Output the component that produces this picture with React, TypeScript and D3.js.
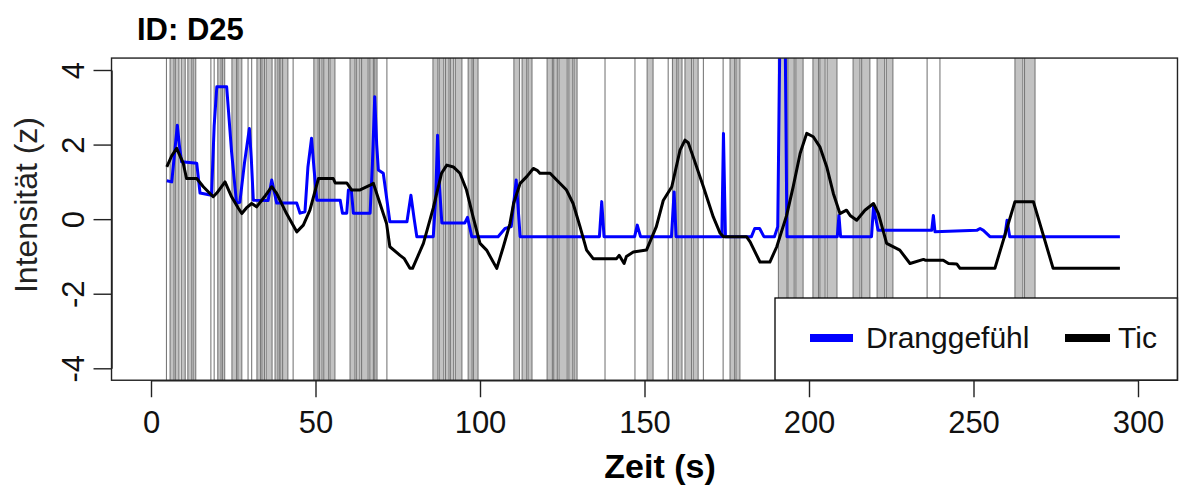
import * as d3 from 'd3';
import { useEffect, useRef } from 'react';

const chartWidth = 1181;
const chartHeight = 491;

const xTicks = [0, 50, 100, 150, 200, 250, 300];
const yTicks = [-4, -2, 0, 2, 4];

// tic episodes in seconds [start, end]; start == end is a single line
const ticEpisodes = [
    [4.7, 4.7], [5.8, 7.0], [7.4, 8.5], [9.2, 10.4], [11.2, 12.4], [12.8, 13.6],
    [18.2, 18.2], [19.2, 19.2], [20.3, 21.3], [21.7, 22.4], [24.6, 26.0], [26.4, 27.6],
    [29.5, 29.5], [30.6, 30.6], [32.2, 33.3], [33.7, 34.5], [35.0, 36.8], [37.7, 38.6], [39.0, 39.5],
    [40.0, 41.6], [43.2, 43.2],
    [49.5, 50.8], [51.2, 52.0], [52.5, 54.0], [54.4, 55.9],
    [60.5, 62.0], [62.4, 63.5], [64.0, 66.0], [66.5, 67.6], [68.0, 68.7], [71.7, 71.7],
    [85.7, 87.2], [87.6, 89.0], [89.5, 90.6], [91.0, 92.0], [92.5, 94.5], [96.4, 97.6], [98.0, 99.4],
    [110.3, 112.0], [112.8, 114.2], [114.6, 115.8], [120.4, 122.0], [122.4, 123.5], [124.0, 126.5],
    [127.0, 128.2], [128.6, 129.5],
    [138.0, 138.0], [147.1, 147.1],
    [150.8, 152.6], [157.2, 157.2], [158.5, 159.8], [160.2, 161.4], [162.3, 164.3], [164.8, 166.3],
    [167.9, 167.9], [173.9, 173.9], [176.0, 177.4], [177.8, 179.0],
    [190.7, 193.3], [193.6, 195.5], [196.0, 198.2], [201.2, 202.9], [203.3, 204.9], [205.5, 208.5],
    [213.4, 215.5], [216.0, 218.5], [220.7, 223.0], [223.5, 225.5],
    [235.9, 235.9], [239.8, 239.8], [262.6, 265.0], [265.5, 268.7],
];

// Dranggefühl (urge), [time, z]
const urge = [
    [4.8, 1.03], [6.3, 1.0], [7.2, 1.8], [8.0, 2.52], [8.6, 2.0], [9.3, 1.54], [13.9, 1.5], [14.9, 0.7],
    [18.4, 0.64], [19.2, 2.5], [20.0, 3.55], [23.0, 3.55], [24.5, 1.8], [26.0, 0.43], [27.0, 0.45],
    [28.4, 1.5], [29.9, 2.43], [30.5, 1.6], [31.1, 0.51], [35.6, 0.5], [36.7, 1.05], [38.2, 0.43],
    [44.3, 0.43], [45.3, 0.16], [46.8, 0.2], [47.7, 1.4], [48.8, 2.17], [49.6, 1.3], [50.4, 0.51],
    [57.5, 0.51], [58.2, 0.16], [59.5, 0.16], [60.0, 0.78], [60.9, 0.78], [61.5, 0.16], [66.6, 0.16],
    [67.3, 1.5], [68.0, 3.28], [68.6, 2.0], [69.1, 1.32], [70.6, 1.23], [72.6, -0.07], [77.8, -0.07],
    [79.0, 0.64], [80.0, 0.0], [80.8, -0.47], [85.8, -0.47], [86.5, 0.5], [87.1, 2.25], [87.6, 1.0],
    [88.4, -0.1], [95.4, -0.1], [96.2, 0.05], [97.5, -0.47], [105.5, -0.47], [107.6, -0.25],
    [109.5, -0.2], [111.0, 1.05], [112.2, -0.47], [136.3, -0.47], [137.0, 0.47], [137.7, -0.47],
    [147.0, -0.47], [147.8, -0.16], [148.8, -0.47], [158.2, -0.47], [159.0, 0.73], [159.6, -0.47],
    [173.5, -0.47], [174.0, 2.3], [174.6, -0.47], [182.5, -0.47], [183.5, -0.25], [185.0, -0.25],
    [186.3, -0.47], [189.5, -0.47], [190.5, -0.2], [191.1, 4.5], [192.8, 4.5], [193.3, -0.47],
    [208.6, -0.47], [209.1, 0.1], [209.6, -0.47], [219.0, -0.47], [219.6, 0.33], [221.0, -0.3],
    [237.3, -0.3], [237.8, 0.1], [238.3, -0.34], [251.0, -0.3], [252.0, -0.25], [253.0, -0.3],
    [255.0, -0.47], [259.5, -0.47], [260.2, -0.03], [261.0, -0.47], [294.5, -0.47],
];

// Tic intensity, [time, z]
const tic = [
    [4.8, 1.4], [6.3, 1.7], [7.8, 1.9], [9.8, 1.5], [10.8, 1.09], [13.9, 1.09], [15.9, 0.87],
    [18.9, 0.6], [20.0, 0.7], [22.5, 1.0], [24.5, 0.6], [26.5, 0.3], [27.6, 0.15], [29.0, 0.3],
    [30.6, 0.42], [32.1, 0.33], [34.5, 0.6], [36.7, 0.87], [38.2, 0.69], [41.2, 0.15], [44.3, -0.34],
    [46.3, -0.16], [48.3, 0.24], [50.9, 1.09], [55.4, 1.09], [56.0, 0.97], [59.5, 0.97], [61.0, 0.78],
    [63.4, 0.78], [66.6, 0.91], [67.6, 0.96], [69.6, 0.42], [71.6, -0.12], [72.6, -0.74], [75.7, -0.97],
    [77.0, -1.06], [78.7, -1.32], [79.5, -1.32], [82.8, -0.65], [85.8, 0.3], [88.3, 1.23], [89.9, 1.45],
    [91.9, 1.4], [93.9, 1.23], [95.9, 0.78], [97.9, 0.06], [100.0, -0.65], [102.0, -0.83],
    [105.1, -1.32], [107.1, -0.74], [109.1, -0.12], [110.2, 0.42], [112.2, 0.96], [114.2, 1.14],
    [116.2, 1.36], [117.5, 1.3], [118.2, 1.23], [121.3, 1.23], [123.3, 1.05], [126.3, 0.78],
    [128.3, 0.42], [130.4, -0.2], [132.4, -0.83], [134.4, -1.06], [141.5, -1.06], [142.3, -0.97],
    [143.8, -1.19], [144.5, -1.0], [146.6, -0.88], [150.6, -0.83], [153.6, -0.2], [155.7, 0.5],
    [158.3, 0.87], [160.8, 1.85], [162.3, 2.12], [163.3, 2.05], [164.8, 1.67], [167.9, 0.87],
    [170.9, 0.06], [173.0, -0.38], [174.0, -0.47], [181.0, -0.47], [182.1, -0.61], [185.1, -1.15],
    [188.1, -1.15], [190.2, -0.74], [193.2, 0.1], [195.2, 0.87], [197.3, 1.76], [199.3, 2.3],
    [201.3, 2.21], [203.3, 1.94], [205.4, 1.4], [207.4, 0.69], [209.4, 0.15], [211.4, 0.24],
    [212.5, 0.1], [214.5, -0.03], [217.0, 0.24], [219.6, 0.42], [221.1, 0.15], [223.6, -0.65],
    [227.6, -0.83], [230.7, -1.19], [234.8, -1.08], [235.3, -1.1], [240.8, -1.1], [242.4, -1.19],
    [244.9, -1.2], [245.9, -1.32], [256.5, -1.32], [262.6, 0.47], [268.2, 0.47], [274.2, -1.32],
    [294.5, -1.32],
];

const legendLabels = ['Dranggefühl', 'Tic'];
const seriesColors = ['#0000ff', '#000000'];

const font = '"Liberation Sans", Arial, Helvetica, sans-serif';

function App() {
    const svgRef = useRef(null);

    useEffect(() => {
        const svg = d3.select(svgRef.current);
        svg.selectAll('*').remove();

        // R style: axes extend 4% beyond the data limits
        const x = d3.scaleLinear().domain([0, 300]).range([151, 1138]);
        const y = d3.scaleLinear().domain([-4, 4]).range([368.3, 70]);
        const left = x(-12), right = x(312);
        const top = y(4.32), bottom = y(-4.32);

        svg.append('clipPath').attr('id', 'plot-clip')
            .append('rect')
            .attr('x', left).attr('y', top)
            .attr('width', right - left).attr('height', bottom - top);

        const plot = svg.append('g').attr('clip-path', 'url(#plot-clip)');

        // tic episodes as grey bands with darker edges
        plot.selectAll('rect.band')
            .data(ticEpisodes.filter(d => d[1] > d[0]))
            .enter().append('rect')
            .attr('class', 'band')
            .attr('x', d => x(d[0]))
            .attr('width', d => x(d[1]) - x(d[0]))
            .attr('y', top).attr('height', bottom - top)
            .attr('fill', '#c2c2c2');

        const edges = ticEpisodes.flatMap(d => (d[1] > d[0] ? [d[0], d[1]] : [d[0]]));
        plot.selectAll('line.edge')
            .data(edges)
            .enter().append('line')
            .attr('class', 'edge')
            .attr('x1', d => x(d)).attr('x2', d => x(d))
            .attr('y1', top).attr('y2', bottom)
            .attr('stroke', '#7a7a7a')
            .attr('stroke-width', 1.1);

        const line = d3.line().x(d => x(d[0])).y(d => y(d[1]));
        [urge, tic].forEach((series, i) => {
            plot.append('path')
                .attr('d', line(series))
                .attr('fill', 'none')
                .attr('stroke', seriesColors[i])
                .attr('stroke-width', 3)
                .attr('stroke-linejoin', 'round');
        });

        // legend, bottom right
        const lg = svg.append('g');
        lg.append('rect')
            .attr('x', 775).attr('y', 298)
            .attr('width', right - 775).attr('height', bottom - 298)
            .attr('fill', '#fff').attr('stroke', '#000').attr('stroke-width', 1.3);
        const sampleX = [[810, 853], [1065, 1110]];
        const textX = [866, 1118];
        legendLabels.forEach((label, i) => {
            lg.append('line')
                .attr('x1', sampleX[i][0]).attr('x2', sampleX[i][1])
                .attr('y1', 338).attr('y2', 338)
                .attr('stroke', seriesColors[i]).attr('stroke-width', 8);
            lg.append('text')
                .attr('x', textX[i]).attr('y', 348)
                .attr('font-size', 30)
                .attr('fill', '#111')
                .text(label);
        });

        // box
        svg.append('rect')
            .attr('x', left).attr('y', top)
            .attr('width', right - left).attr('height', bottom - top)
            .attr('fill', 'none').attr('stroke', '#222').attr('stroke-width', 1.4);

        // axes (plain hyphen for negatives, like R)
        const xAxis = svg.append('g')
            .attr('transform', `translate(0, ${bottom})`)
            .call(d3.axisBottom(x).tickValues(xTicks).tickFormat(d => String(d)).tickSize(17).tickSizeOuter(0));
        xAxis.selectAll('text')
            .attr('y', 53).attr('dy', 0)
            .attr('font-size', 31).attr('font-family', font).attr('fill', '#111');

        const yAxis = svg.append('g')
            .attr('transform', `translate(${left}, 0)`)
            .call(d3.axisLeft(y).tickValues(yTicks).tickFormat(d => String(d)).tickSize(18).tickSizeOuter(0));
        yAxis.selectAll('text')
            .attr('x', 0).attr('dy', 0)
            .attr('text-anchor', 'middle')
            .attr('transform', 'translate(-28, 0) rotate(-90)')
            .attr('font-size', 31).attr('font-family', font).attr('fill', '#111');

        [xAxis, yAxis].forEach(a => {
            a.select('.domain').attr('stroke', '#222').attr('stroke-width', 1.4);
            a.selectAll('.tick line').attr('stroke', '#222').attr('stroke-width', 1.4);
        });

        // labels
        svg.append('text')
            .attr('x', 137).attr('y', 40)
            .attr('font-size', 31).attr('font-weight', 'bold')
            .text('ID: D25');

        svg.append('text')
            .attr('x', 660).attr('y', 478)
            .attr('text-anchor', 'middle')
            .attr('font-size', 34).attr('font-weight', 'bold')
            .text('Zeit (s)');

        svg.append('text')
            .attr('transform', 'translate(37, 205) rotate(-90)')
            .attr('text-anchor', 'middle')
            .attr('font-size', 32)
            .attr('fill', '#222')
            .text('Intensität (z)');
    }, []);

    return <svg
        ref={svgRef}
        width={chartWidth}
        height={chartHeight}
        style={{ position: 'absolute', left: 0, top: 0, background: '#fff', fontFamily: font }}
    />;
}

export default App;
